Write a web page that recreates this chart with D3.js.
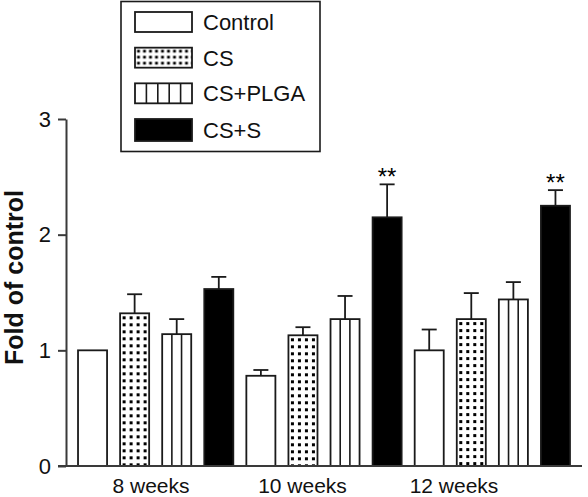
<!DOCTYPE html>
<html>
<head>
<meta charset="utf-8">
<script src="https://cdn.jsdelivr.net/npm/d3@7"></script>
<style>
  html, body { margin: 0; padding: 0; background: #fff; }
  svg { display: block; font-family: "Liberation Sans", Arial, Helvetica, sans-serif; }
</style>
</head>
<body>
<svg id="chart" width="588" height="497"></svg>
<script>
// ---- data ----
const groups = ["8 weeks", "10 weeks", "12 weeks"];
const series = ["Control", "CS", "CS+PLGA", "CS+S"];
const controlVals = [1.0, 0.78, 1.0];
const controlErr  = [0.0, 0.05, 0.18];
const csVals      = [1.32, 1.13, 1.27];
const csErr       = [0.165, 0.07, 0.225];
const plgaVals    = [1.14, 1.27, 1.44];
const plgaErr     = [0.13, 0.20, 0.15];
const cssVals     = [1.53, 2.15, 2.25];
const cssErr      = [0.105, 0.285, 0.135];
const cssStars    = ["", "**", "**"];
const yTicks      = [0, 1, 2, 3];
const yLabel      = "Fold of control";

const seriesVals = [controlVals, csVals, plgaVals, cssVals];
const seriesErrs = [controlErr, csErr, plgaErr, cssErr];
const seriesStars = [null, null, null, cssStars];

const bars = [];
groups.forEach((g, gi) => {
  series.forEach((s, si) => {
    bars.push({
      idx: gi * series.length + si,
      group: g, series: s, si: si,
      value: seriesVals[si][gi],
      err: seriesErrs[si][gi],
      star: seriesStars[si] ? seriesStars[si][gi] : ""
    });
  });
});

// ---- scales ----
const svg = d3.select("#chart");
const axisX = 66, axisTop = 119, axisBottom = 466;
const y = d3.scaleLinear().domain([0, 3]).range([axisBottom, axisTop]);
const x = d3.scaleBand()
  .domain(d3.range(bars.length))
  .range([71.5, 576.5])
  .paddingInner(0.31)
  .paddingOuter(0.155);
const gx = d3.scalePoint().domain(groups).range([151, 454]);

const ink = "#1a1a1a";
const axisInk = "#3a3a3a";

// ---- patterns ----
const defs = svg.append("defs");
function dotPattern(id, x0, y0, step, size) {
  const p = defs.append("pattern")
    .attr("id", id)
    .attr("patternUnits", "userSpaceOnUse")
    .attr("x", x0).attr("y", y0)
    .attr("width", step).attr("height", step);
  p.append("rect").attr("width", step).attr("height", step).attr("fill", "#fff");
  p.append("rect")
    .attr("x", step / 2 - size / 2).attr("y", step / 2 - size / 2)
    .attr("width", size).attr("height", size).attr("fill", "#000");
}

function fillFor(d) {
  if (d.si === 0) return "#fff";
  if (d.si === 1) return `url(#dots-${d.idx})`;
  if (d.si === 2) return "#fff";
  return "#000";
}

bars.filter(d => d.si === 1).forEach(d => {
  dotPattern(`dots-${d.idx}`, x(d.idx) + 0.5, y(d.value) + 1, 7, 3);
});

// ---- bars ----
const barG = svg.append("g");
barG.selectAll("rect.bar")
  .data(bars)
  .join("rect")
  .attr("class", "bar")
  .attr("x", d => x(d.idx))
  .attr("y", d => y(d.value))
  .attr("width", x.bandwidth())
  .attr("height", d => y(0) - y(d.value))
  .attr("fill", fillFor)
  .attr("stroke", ink)
  .attr("stroke-width", 1.8);

// vertical lines for CS+PLGA
bars.filter(d => d.si === 2).forEach(d => {
  [1, 2].forEach(k => {
    const xx = x(d.idx) + k * x.bandwidth() / 3;
    barG.append("line")
      .attr("x1", xx).attr("x2", xx)
      .attr("y1", y(d.value)).attr("y2", y(0))
      .attr("stroke", ink).attr("stroke-width", 1.6);
  });
});

// error bars
const errG = svg.append("g");
bars.filter(d => d.err > 0).forEach(d => {
  const cx = x(d.idx) + x.bandwidth() / 2;
  errG.append("line")
    .attr("x1", cx).attr("x2", cx)
    .attr("y1", y(d.value)).attr("y2", y(d.value + d.err))
    .attr("stroke", ink).attr("stroke-width", 1.8);
  errG.append("line")
    .attr("x1", cx - 7.5).attr("x2", cx + 7.5)
    .attr("y1", y(d.value + d.err)).attr("y2", y(d.value + d.err))
    .attr("stroke", ink).attr("stroke-width", 1.8);
});

// stars
errG.selectAll("text.star")
  .data(bars.filter(d => d.star))
  .join("text")
  .attr("class", "star")
  .attr("x", d => x(d.idx) + x.bandwidth() / 2)
  .attr("y", d => y(d.value + d.err) + 1)
  .attr("text-anchor", "middle")
  .attr("font-size", 24)
  .attr("fill", "#000")
  .text(d => d.star);

// ---- axes ----
const yAxis = d3.axisLeft(y).tickValues(yTicks).tickSize(8).tickSizeOuter(0).tickPadding(7).tickFormat(d3.format("d"));
const yAxisG = svg.append("g").attr("transform", `translate(${axisX},0)`).call(yAxis);
yAxisG.select(".domain").attr("stroke", axisInk).attr("stroke-width", 2);
yAxisG.selectAll(".tick line").attr("stroke", axisInk).attr("stroke-width", 2);
yAxisG.selectAll(".tick text").attr("font-size", 22).attr("fill", "#111")
  .attr("font-family", "\"Liberation Sans\", Arial, sans-serif");

svg.append("line")
  .attr("x1", 58).attr("x2", 582)
  .attr("y1", y(0)).attr("y2", y(0))
  .attr("stroke", axisInk).attr("stroke-width", 2);

svg.append("g").selectAll("text")
  .data(groups)
  .join("text")
  .attr("x", d => gx(d))
  .attr("y", 493)
  .attr("text-anchor", "middle")
  .attr("font-size", 21)
  .attr("fill", "#111")
  .text(d => d);

svg.append("text")
  .attr("transform", `translate(23,${(182 + 373) / 2}) rotate(-90)`)
  .attr("text-anchor", "middle")
  .attr("font-size", 25)
  .attr("font-weight", "bold")
  .attr("fill", "#111")
  .text(yLabel);

// ---- legend ----
const leg = svg.append("g");
leg.append("rect")
  .attr("x", 121).attr("y", 1.5)
  .attr("width", 199).attr("height", 150)
  .attr("fill", "#fff").attr("stroke", ink).attr("stroke-width", 1.6);

const legRowY = d3.scaleLinear().domain([0, 3]).range([12, 119]);
series.forEach((s, si) => {
  const ry = legRowY(si);
  const sw = 57, sh = si === 3 ? 22 : 20;
  let fill = "#fff";
  if (si === 1) {
    dotPattern("dots-legend", 135 + 0.5, ry + 0.5, 6, 2.8);
    fill = "url(#dots-legend)";
  }
  if (si === 3) fill = "#000";
  leg.append("rect")
    .attr("x", 135).attr("y", ry)
    .attr("width", sw).attr("height", sh)
    .attr("fill", fill).attr("stroke", ink).attr("stroke-width", 1.8);
  if (si === 2) {
    d3.range(1, 5).forEach(k => {
      const xx = 135 + k * sw / 5;
      leg.append("line")
        .attr("x1", xx).attr("x2", xx)
        .attr("y1", ry).attr("y2", ry + sh)
        .attr("stroke", ink).attr("stroke-width", 1.6);
    });
  }
  leg.append("text")
    .attr("x", 203).attr("y", ry + sh / 2 + 8)
    .attr("font-size", 22)
    .attr("fill", "#111")
    .text(s);
});
</script>
</body>
</html>
